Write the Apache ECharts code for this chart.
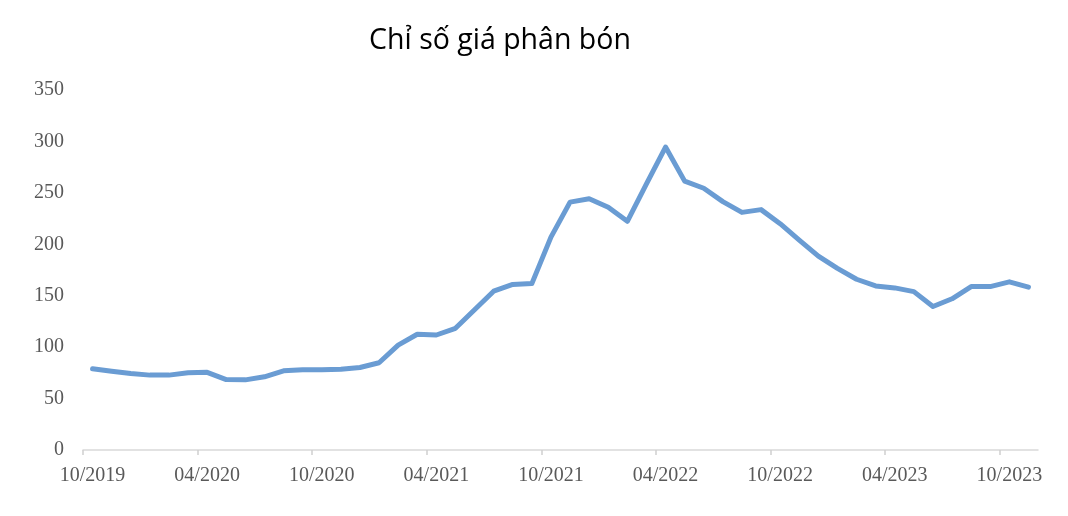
<!DOCTYPE html>
<html>
<head>
<meta charset="utf-8">
<script src="https://cdn.jsdelivr.net/npm/echarts@6/dist/echarts.min.js"></script>
<style>
  html, body { margin: 0; padding: 0; background: #fff; }
  #chart { width: 1068px; height: 516px; }
</style>
</head>
<body>
<div id="chart"></div>
<script>
// monthly categories 10/2019 -> 11/2023
var months = [
    "10/2019", "11/2019", "12/2019", "01/2020", "02/2020", "03/2020",
    "04/2020", "05/2020", "06/2020", "07/2020", "08/2020", "09/2020",
    "10/2020", "11/2020", "12/2020", "01/2021", "02/2021", "03/2021",
    "04/2021", "05/2021", "06/2021", "07/2021", "08/2021", "09/2021",
    "10/2021", "11/2021", "12/2021", "01/2022", "02/2022", "03/2022",
    "04/2022", "05/2022", "06/2022", "07/2022", "08/2022", "09/2022",
    "10/2022", "11/2022", "12/2022", "01/2023", "02/2023", "03/2023",
    "04/2023", "05/2023", "06/2023", "07/2023", "08/2023", "09/2023",
    "10/2023", "11/2023"
];

// chỉ số giá phân bón
var fertilizerIndex = [
    79, 76.5, 74.3, 72.8, 72.8, 75, 75.5, 68.5, 68.2, 71.2,
    77, 78, 78, 78.6, 80.2, 84.8, 102, 112.5, 111.8, 118.3,
    136.3, 154.4, 161, 161.8, 207, 241, 244.3, 236, 222.3, 258.8,
    294.5, 261.4, 254.5, 241.5, 231, 233.7, 220, 204, 188.5, 176.6,
    166, 159.5, 157.6, 154, 139.5, 147, 158.9, 158.9, 163.5, 158.3
];

// x labels every 6 months
var labelMonths = ["10/2019", "04/2020", "10/2020", "04/2021", "10/2021",
    "04/2022", "10/2022", "04/2023", "10/2023"];

var yTicks = { min: 0, max: 350, step: 50 };

// each month is a band of width 1, point sits in the middle
var tickPos = labelMonths.map(function (m) { return months.indexOf(m); });
var labelPos = tickPos.map(function (p) { return p + 0.5; });
var seriesData = fertilizerIndex.map(function (v, i) { return [i + 0.5, v]; });

var chart = echarts.init(document.getElementById("chart"));

var option = {
    backgroundColor: "#fff",
    animation: false,
    title: {
        text: "Chỉ số giá phân bón",
        left: 495,
        top: 21,
        textAlign: "center",
        textStyle: {
            fontFamily: "Open Sans",
            fontSize: 28.5,
            fontWeight: "normal",
            color: "#000"
        }
    },
    grid: {
        left: 83,
        right: 30,
        top: 90,
        bottom: 66
    },
    xAxis: {
        type: "value",
        min: 0,
        max: months.length,
        axisLine: {
            lineStyle: { color: "#d9d9d9", width: 1.5 }
        },
        axisTick: {
            show: true,
            customValues: tickPos,
            length: 5,
            lineStyle: { color: "#d0d0d0", width: 1.5 }
        },
        axisLabel: {
            customValues: labelPos,
            margin: 16,
            fontFamily: "Liberation Serif",
            fontSize: 20,
            color: "#595959",
            formatter: function (val) {
                return months[Math.floor(val)] || "";
            }
        },
        splitLine: { show: false }
    },
    yAxis: {
        type: "value",
        min: yTicks.min,
        max: yTicks.max,
        interval: yTicks.step,
        axisLine: { show: false },
        axisTick: { show: false },
        splitLine: { show: false },
        axisLabel: {
            margin: 19,
            fontFamily: "Liberation Serif",
            fontSize: 20,
            color: "#595959"
        }
    },
    series: [{
        name: "Chỉ số giá phân bón",
        type: "line",
        data: seriesData,
        symbol: "none",
        smooth: false,
        lineStyle: {
            color: "#6a9cd3",
            width: 5,
            join: "round",
            cap: "round"
        }
    }]
};

chart.setOption(option);
</script>
</body>
</html>
